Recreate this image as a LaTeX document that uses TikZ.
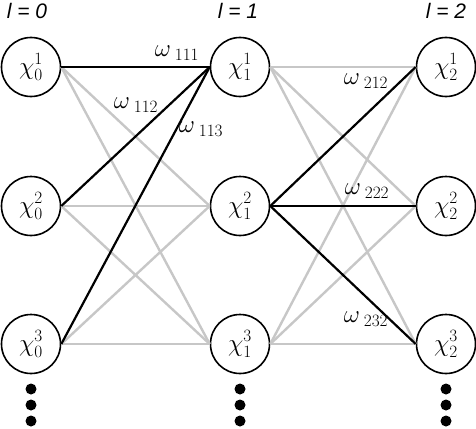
\documentclass[tikz,border=0pt]{standalone}
\usepackage{fontspec}
\newfontfamily\headfont{Liberation Sans}
\DeclareMathSizes{27}{27}{16}{12}
\DeclareMathSizes{24}{24}{17}{12}
\tikzset{
  neuron/.style={circle, draw, line width=1.6pt, minimum size=59pt, inner sep=0pt, font=\fontsize{27pt}{30pt}\selectfont},
  weak/.style={black!22, line width=2.4pt},
  strong/.style={black, line width=2.2pt},
  wlabel/.style={inner sep=0pt, font=\fontsize{24pt}{27pt}\selectfont},
  layer/.style={inner sep=0pt, font=\fontsize{21pt}{25pt}\selectfont\headfont\itshape},
  dot/.style={circle, fill, minimum size=11pt, inner sep=0pt}
}
\begin{document}
\begin{tikzpicture}[x=1pt, y=-1pt]
        \useasboundingbox (0,0) rectangle (476,428);

        % Layer titles
        \node[layer] at (27, 11)   (t0) {l = 0};
        \node[layer] at (238, 11)  (t1) {l = 1};
        \node[layer] at (446, 11)  (t2) {l = 2};

        % Nodes
        \node[neuron] at (31, 67)    (x01) {$\chi^1_0$};
        \node[neuron] at (31, 206)   (x02) {$\chi^2_0$};
        \node[neuron] at (31, 344)   (x03) {$\chi^3_0$};
        \node[neuron] at (240, 67)   (x11) {$\chi^1_1$};
        \node[neuron] at (240, 206)  (x12) {$\chi^2_1$};
        \node[neuron] at (240, 344)  (x13) {$\chi^3_1$};
        \node[neuron] at (446, 67)   (x21) {$\chi^1_2$};
        \node[neuron] at (446, 206)  (x22) {$\chi^2_2$};
        \node[neuron] at (446, 344)  (x23) {$\chi^3_2$};

        % Dots
        \foreach \l/\x in {0/31, 1/240, 2/446}
          \foreach \k/\y in {1/389, 2/405, 3/421}
            \node[dot] at (\x, \y) (d\l\k) {};

        % Weights
        \draw[weak] (x01.east) -- (x12.west);
        \draw[weak] (x01.east) -- (x13.west);
        \draw[weak] (x02.east) -- (x12.west);
        \draw[weak] (x02.east) -- (x13.west);
        \draw[weak] (x03.east) -- (x12.west);
        \draw[weak] (x03.east) -- (x13.west);

        \draw[weak] (x11.east) -- (x21.west);
        \draw[weak] (x11.east) -- (x22.west);
        \draw[weak] (x11.east) -- (x23.west);
        \draw[weak] (x13.east) -- (x21.west);
        \draw[weak] (x13.east) -- (x22.west);
        \draw[weak] (x13.east) -- (x23.west);

        \draw[strong] (x01.east) -- (x11.west);
        \draw[strong] (x02.east) -- (x11.west);
        \draw[strong] (x03.east) -- (x11.west);
        \draw[strong] (x12.east) -- (x21.west);
        \draw[strong] (x12.east) -- (x22.west);
        \draw[strong] (x12.east) -- (x23.west);

        % Weight labels
        \node[wlabel] at (177, 53)  (w111) {$\omega_{\;111}$};
        \node[wlabel] at (136, 105) (w112) {$\omega_{\;112}$};
        \node[wlabel] at (201, 129) (w113) {$\omega_{\;113}$};
        \node[wlabel] at (366, 81)  (w212) {$\omega_{\;212}$};
        \node[wlabel] at (367, 191) (w222) {$\omega_{\;222}$};
        \node[wlabel] at (366, 319) (w232) {$\omega_{\;232}$};
    \end{tikzpicture}
\end{document}
